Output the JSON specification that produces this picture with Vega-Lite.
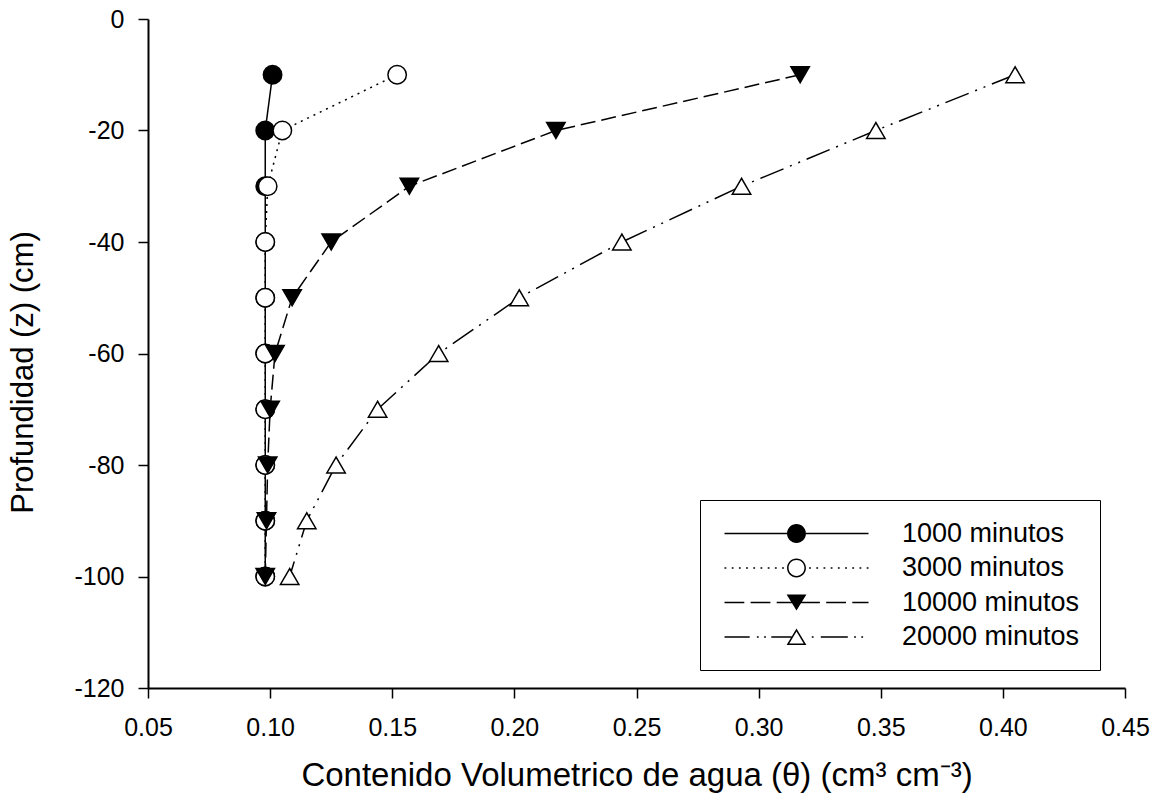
{
  "$schema": "https://vega.github.io/schema/vega-lite/v6.json",
  "width": 977,
  "height": 669,
  "autosize": {"type": "none"},
  "padding": {"left": 148, "top": 19, "right": 43, "bottom": 117},
  "config": {
    "view": {"stroke": null},
    "font": "Liberation Sans",
    "axis": {
      "grid": false,
      "domainColor": "black",
      "domainWidth": 2,
      "tickColor": "black",
      "tickWidth": 1.5,
      "tickSize": 10,
      "labelColor": "black",
      "titleColor": "black",
      "labelFont": "Liberation Sans",
      "titleFont": "Liberation Sans",
      "labelFontSize": 25,
      "titleFontSize": 33,
      "titleFontWeight": "normal",
      "labelFlush": false
    }
  },
  "data": {
    "values": [
      {"serie": "1000 minutos", "theta": 0.101, "z": -10},
      {"serie": "1000 minutos", "theta": 0.098, "z": -20},
      {"serie": "1000 minutos", "theta": 0.098, "z": -30},
      {"serie": "1000 minutos", "theta": 0.098, "z": -40},
      {"serie": "1000 minutos", "theta": 0.098, "z": -50},
      {"serie": "1000 minutos", "theta": 0.098, "z": -60},
      {"serie": "1000 minutos", "theta": 0.098, "z": -70},
      {"serie": "1000 minutos", "theta": 0.098, "z": -80},
      {"serie": "1000 minutos", "theta": 0.098, "z": -90},
      {"serie": "1000 minutos", "theta": 0.098, "z": -100},
      {"serie": "3000 minutos", "theta": 0.152, "z": -10},
      {"serie": "3000 minutos", "theta": 0.105, "z": -20},
      {"serie": "3000 minutos", "theta": 0.099, "z": -30},
      {"serie": "3000 minutos", "theta": 0.098, "z": -40},
      {"serie": "3000 minutos", "theta": 0.098, "z": -50},
      {"serie": "3000 minutos", "theta": 0.098, "z": -60},
      {"serie": "3000 minutos", "theta": 0.098, "z": -70},
      {"serie": "3000 minutos", "theta": 0.098, "z": -80},
      {"serie": "3000 minutos", "theta": 0.098, "z": -90},
      {"serie": "3000 minutos", "theta": 0.098, "z": -100},
      {"serie": "10000 minutos", "theta": 0.317, "z": -10},
      {"serie": "10000 minutos", "theta": 0.217, "z": -20},
      {"serie": "10000 minutos", "theta": 0.157, "z": -30},
      {"serie": "10000 minutos", "theta": 0.125, "z": -40},
      {"serie": "10000 minutos", "theta": 0.109, "z": -50},
      {"serie": "10000 minutos", "theta": 0.102, "z": -60},
      {"serie": "10000 minutos", "theta": 0.100, "z": -70},
      {"serie": "10000 minutos", "theta": 0.099, "z": -80},
      {"serie": "10000 minutos", "theta": 0.0985, "z": -90},
      {"serie": "10000 minutos", "theta": 0.098, "z": -100},
      {"serie": "20000 minutos", "theta": 0.405, "z": -10},
      {"serie": "20000 minutos", "theta": 0.348, "z": -20},
      {"serie": "20000 minutos", "theta": 0.293, "z": -30},
      {"serie": "20000 minutos", "theta": 0.244, "z": -40},
      {"serie": "20000 minutos", "theta": 0.202, "z": -50},
      {"serie": "20000 minutos", "theta": 0.169, "z": -60},
      {"serie": "20000 minutos", "theta": 0.144, "z": -70},
      {"serie": "20000 minutos", "theta": 0.127, "z": -80},
      {"serie": "20000 minutos", "theta": 0.115, "z": -90},
      {"serie": "20000 minutos", "theta": 0.108, "z": -100}
    ]
  },
  "encoding": {
    "x": {
      "field": "theta", "type": "quantitative",
      "scale": {"domain": [0.05, 0.45], "nice": false, "zero": false},
      "axis": {
        "values": [0.05, 0.1, 0.15, 0.2, 0.25, 0.3, 0.35, 0.4, 0.45],
        "format": ".2f",
        "labelPadding": 17,
        "titlePadding": 19,
        "title": "Contenido Volumetrico de agua (θ) (cm³ cm⁻³)"
      }
    },
    "y": {
      "field": "z", "type": "quantitative",
      "scale": {"domain": [-120, 0], "nice": false, "zero": false},
      "axis": {
        "values": [-120, -100, -80, -60, -40, -20, 0],
        "labelExpr": "'' + datum.value",
        "labelPadding": 14,
        "titlePadding": 34,
        "titleFontSize": 31,
        "titleY": 353,
        "title": "Profundidad (z) (cm)"
      }
    }
  },
  "layer": [
    {
      "mark": {"type": "line", "color": "black", "strokeWidth": 1.5},
      "encoding": {
        "order": {"field": "z", "type": "quantitative", "sort": "descending"},
        "strokeDash": {
          "field": "serie", "type": "nominal",
          "scale": {
            "domain": ["1000 minutos", "3000 minutos", "10000 minutos", "20000 minutos"],
            "range": [[1, 0], [2, 5], [15, 6], [25, 7, 2, 7, 2, 7]]
          },
          "legend": null
        }
      }
    },
    {
      "mark": {"type": "point", "stroke": "black", "strokeWidth": 1.5, "size": 340, "opacity": 1, "filled": true},
      "encoding": {
        "shape": {
          "field": "serie", "type": "nominal",
          "scale": {
            "domain": ["1000 minutos", "3000 minutos", "10000 minutos", "20000 minutos"],
            "range": ["circle", "circle", "triangle-down", "triangle-up"]
          },
          "legend": null
        },
        "fill": {
          "field": "serie", "type": "nominal",
          "scale": {
            "domain": ["1000 minutos", "3000 minutos", "10000 minutos", "20000 minutos"],
            "range": ["black", "white", "black", "white"]
          },
          "legend": null
        }
      }
    },
    {
      "transform": [{"filter": "datum.z == -100"}],
      "mark": {"type": "point", "color": "black", "fill": "black", "strokeWidth": 0, "size": 324, "opacity": 0, "filled": true},
      "encoding": {
        "shape": {
          "field": "serie", "type": "nominal",
          "scale": {
            "domain": ["1000 minutos", "3000 minutos", "10000 minutos", "20000 minutos"],
            "range": [
              "M-1,-0.085L5.95,-0.085L5.95,0.085L-1,0.085ZM8.05,-0.085L15,-0.085L15,0.085L8.05,0.085ZM8.05,0A1.05,1.05,0,1,1,5.95,0A1.05,1.05,0,1,1,8.05,0Z",
              "M-1,-0.085L-0.8,-0.085L-0.8,0.085L-1,0.085ZM-0.2,-0.085L0,-0.085L0,0.085L-0.2,0.085ZM0.6,-0.085L0.8,-0.085L0.8,0.085L0.6,0.085ZM1.4,-0.085L1.6,-0.085L1.6,0.085L1.4,0.085ZM2.2,-0.085L2.4,-0.085L2.4,0.085L2.2,0.085ZM3,-0.085L3.2,-0.085L3.2,0.085L3,0.085ZM3.8,-0.085L4,-0.085L4,0.085L3.8,0.085ZM4.6,-0.085L4.8,-0.085L4.8,0.085L4.6,0.085ZM5.4,-0.085L5.6,-0.085L5.6,0.085L5.4,0.085ZM8.4,-0.085L8.6,-0.085L8.6,0.085L8.4,0.085ZM9.2,-0.085L9.4,-0.085L9.4,0.085L9.2,0.085ZM10,-0.085L10.2,-0.085L10.2,0.085L10,0.085ZM10.8,-0.085L11,-0.085L11,0.085L10.8,0.085ZM11.6,-0.085L11.8,-0.085L11.8,0.085L11.6,0.085ZM12.4,-0.085L12.6,-0.085L12.6,0.085L12.4,0.085ZM13.2,-0.085L13.4,-0.085L13.4,0.085L13.2,0.085ZM14,-0.085L14.2,-0.085L14.2,0.085L14,0.085ZM14.8,-0.085L15,-0.085L15,0.085L14.8,0.085ZM8.05,0A1.05,1.05,0,1,1,5.95,0A1.05,1.05,0,1,1,8.05,0ZM7.88,0A0.88,0.88,0,1,0,6.12,0A0.88,0.88,0,1,0,7.88,0Z",
              "M-1,-0.085L1.2,-0.085L1.2,0.085L-1,0.085ZM1.9,-0.085L4.1,-0.085L4.1,0.085L1.9,0.085ZM4.8,-0.085L6.6,-0.085L6.6,0.085L4.8,0.085ZM7.4,-0.085L9.6,-0.085L9.6,0.085L7.4,0.085ZM10.3,-0.085L12.5,-0.085L12.5,0.085L10.3,0.085ZM13.2,-0.085L15,-0.085L15,0.085L13.2,0.085ZM5.9,-0.9L8.1,-0.9L7,0.9Z",
              "M-1,-0.085L1.8,-0.085L1.8,0.085L-1,0.085ZM2.6,-0.085L2.8,-0.085L2.8,0.085L2.6,0.085ZM3.4,-0.085L3.6,-0.085L3.6,0.085L3.4,0.085ZM4.2,-0.085L6.45,-0.085L6.45,0.085L4.2,0.085ZM8.7,-0.085L8.9,-0.085L8.9,0.085L8.7,0.085ZM9.7,-0.085L12.7,-0.085L12.7,0.085L9.7,0.085ZM13.4,-0.085L13.6,-0.085L13.6,0.085L13.4,0.085ZM14.2,-0.085L14.4,-0.085L14.4,0.085L14.2,0.085ZM7,-0.95L8.1,0.9L5.9,0.9ZM7,-0.62L6.2,0.73L7.8,0.73Z"
            ]
          },
          "legend": {
            "title": null,
            "orient": "none",
            "legendX": 552,
            "legendY": 481,
            "padding": 20,
            "strokeColor": "black",
            "fillColor": "white",
            "symbolSize": 324,
            "symbolFillColor": "black",
            "symbolStrokeWidth": 0,
            "symbolStrokeColor": "transparent",
            "symbolOpacity": 1,
            "labelOffset": 155,
            "labelLimit": 400,
            "labelFontSize": 27,
            "labelFont": "Liberation Sans",
            "labelColor": "black",
            "rowPadding": 6.5,
            "labelExpr": "datum.label + '\u2002\u2002'"
          }
        }
      }
    }
  ],
  "resolve": {"scale": {"shape": "independent", "fill": "independent"}}
}
